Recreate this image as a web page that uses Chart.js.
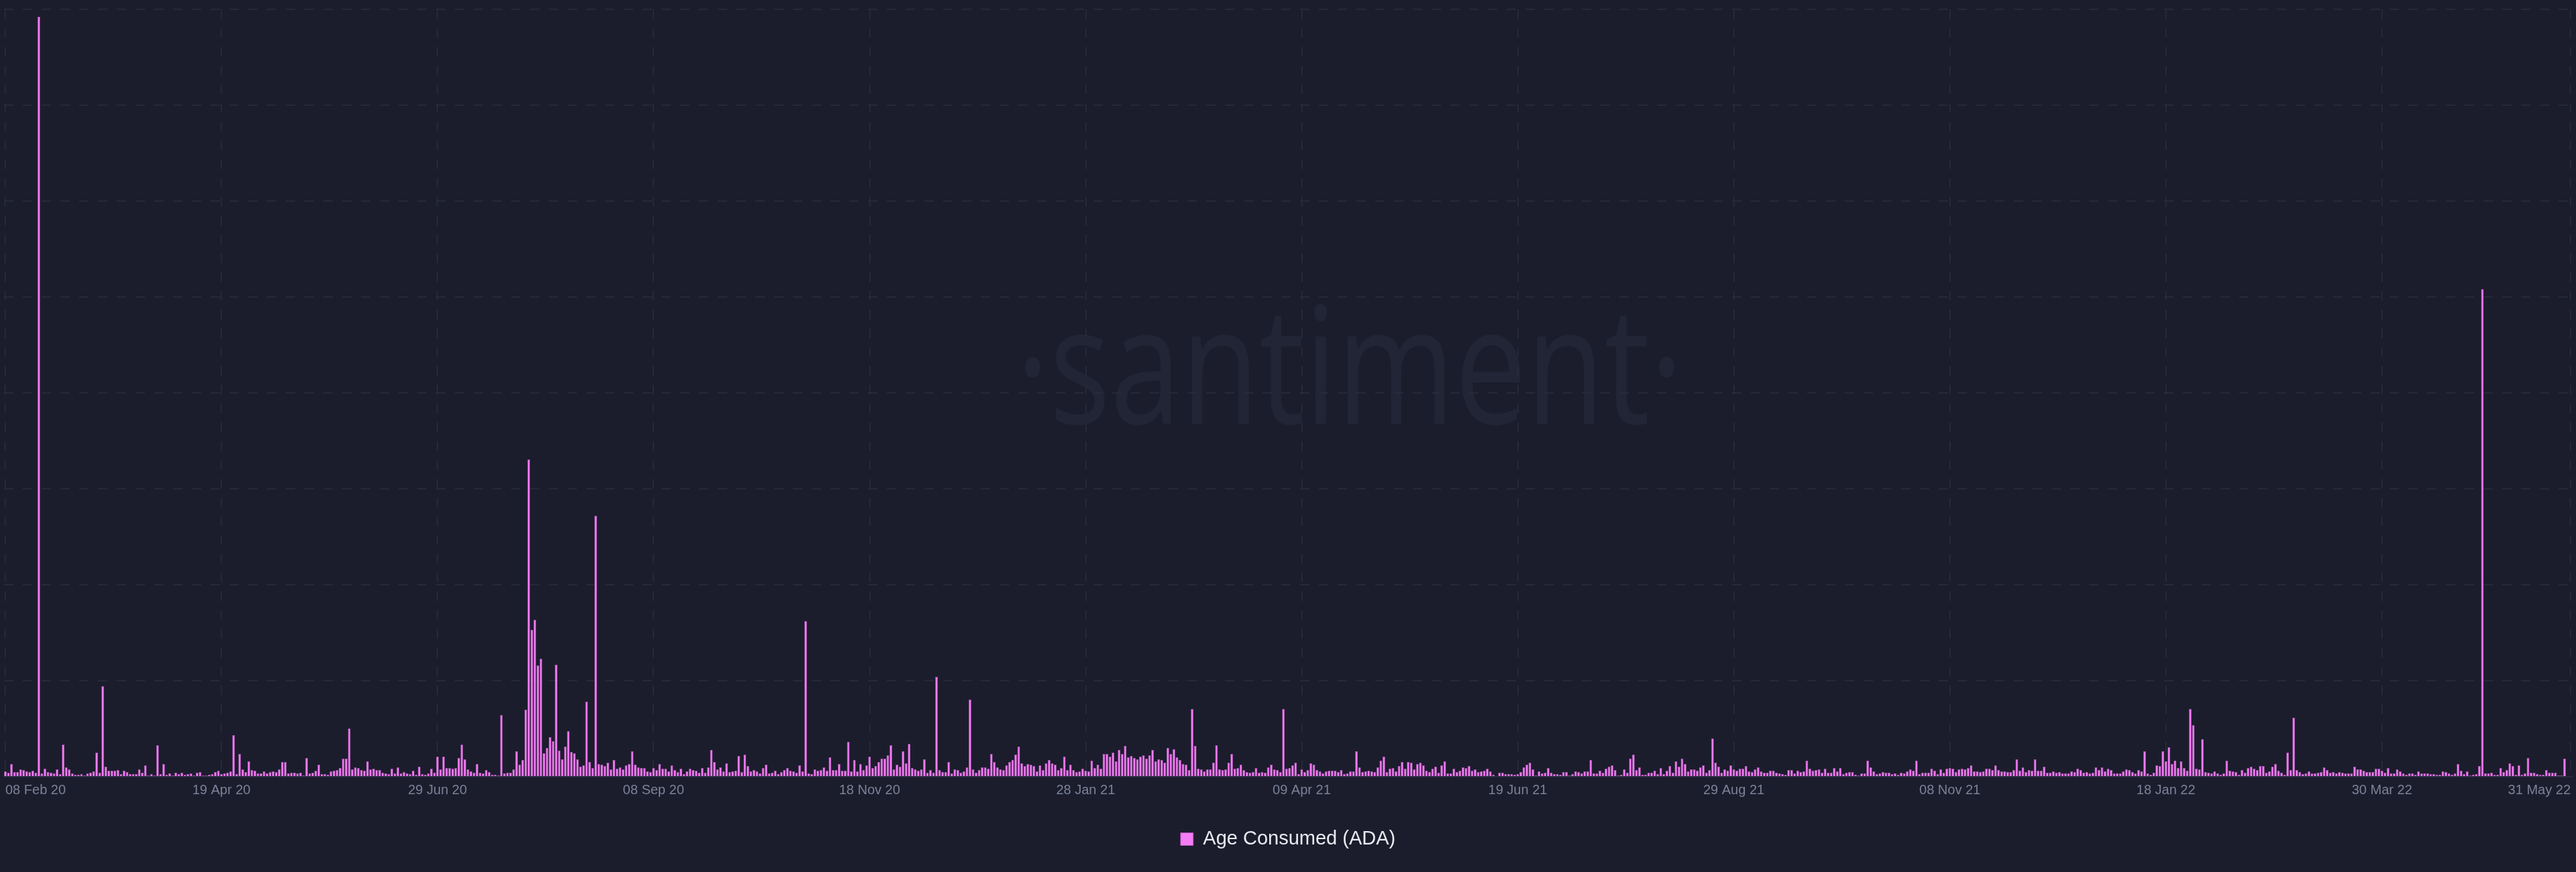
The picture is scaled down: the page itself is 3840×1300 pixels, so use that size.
<!DOCTYPE html>
<html>
<head>
<meta charset="utf-8">
<script src="https://cdn.jsdelivr.net/npm/chart.js@4.4.1/dist/chart.umd.min.js"></script>
<style>
  html, body { margin: 0; padding: 0; background: #1b1d2c; }
  #wrap { position: relative; width: 3840px; height: 1300px; background: #1b1d2c; }
</style>
</head>
<body>
<div id="wrap"><canvas id="c"></canvas></div>
<script>
// ---- data (daily Age Consumed, ADA); units: one gridline = 143 ----
const startDay = '2020-02-08';
const seriesName = 'Age Consumed (ADA)';
const ageConsumed = [
  8,6,19,7,7,11,10,8,7,9,
  6,1133,5,12,7,6,5,11,4,48,
  14,11,5,3,3,4,2,5,6,8,
  36,6,135,15,9,9,9,10,4,9,
  7,4,4,4,11,6,17,2,4,2,
  47,4,19,3,5,2,6,4,6,3,
  4,5,2,6,7,2,2,3,4,7,
  9,4,5,6,8,62,4,34,11,7,
  23,10,9,5,5,8,5,7,8,7,
  11,22,22,5,6,6,5,6,2,28,
  5,6,9,18,4,4,3,8,9,10,
  13,27,27,72,11,14,13,10,9,23,
  11,12,10,10,6,5,4,12,5,14,
  5,7,5,4,9,3,15,4,3,5,
  12,6,30,11,30,13,13,12,13,28,
  48,26,11,8,6,19,6,5,10,7,
  3,3,2,92,5,6,6,11,38,18,
  25,100,473,219,234,166,176,35,43,59,
  53,167,39,26,45,68,37,35,26,15,
  17,112,22,13,389,19,18,16,21,11,
  25,12,14,11,17,19,38,18,14,13,
  13,8,7,13,10,19,12,12,8,17,
  10,7,12,4,8,12,10,9,6,13,
  6,14,40,22,11,14,8,20,7,8,
  9,31,7,33,16,8,10,8,5,13,
  18,5,6,9,4,7,10,13,9,8,
  6,17,8,232,5,4,11,9,10,14,
  9,29,10,10,19,9,9,52,8,25,
  8,19,10,17,30,13,16,22,27,27,
  32,47,11,18,15,38,20,49,13,11,
  9,11,26,6,10,6,149,10,7,7,
  22,5,11,10,6,8,14,115,11,6,
  10,14,14,12,34,22,14,11,10,17,
  22,25,33,45,20,16,19,18,16,8,
  17,10,20,25,20,18,10,13,30,10,
  18,10,7,8,12,9,8,24,13,18,
  12,34,34,30,36,23,40,34,46,29,
  31,28,26,30,32,27,32,40,23,26,
  25,21,43,34,41,29,25,19,18,10,
  101,46,12,11,8,11,11,21,47,11,
  10,11,21,34,12,13,18,10,7,6,
  7,13,6,7,6,14,18,11,10,7,
  101,12,13,17,21,4,11,7,10,20,
  18,10,8,5,8,9,9,9,7,10,
  4,5,8,8,38,14,7,8,9,8,
  7,14,24,30,7,12,13,8,16,22,
  12,22,21,11,19,21,17,9,7,12,
  15,6,17,23,5,5,12,7,9,14,
  13,16,9,11,7,8,9,12,8,3,
  1,6,6,4,4,4,3,4,7,14,
  18,21,11,2,8,5,6,13,6,4,
  4,3,7,7,2,4,8,7,5,8,
  8,25,5,5,9,6,12,15,17,10,
  2,3,11,6,27,33,10,14,3,3,
  6,6,9,4,13,4,9,16,6,23,
  15,27,19,8,11,11,9,14,17,6,
  10,57,21,15,6,11,9,17,11,9,
  12,12,16,8,7,11,14,8,6,6,
  9,9,6,5,4,3,10,10,5,9,
  7,8,24,12,9,10,11,6,12,6,
  6,13,8,13,4,6,7,7,3,2,
  5,5,24,14,8,4,5,7,6,6,
  4,5,3,6,5,8,11,9,24,4,
  6,6,6,12,9,4,11,6,12,13,
  12,7,11,12,11,13,17,8,8,7,
  8,12,12,10,17,10,8,8,7,7,
  10,26,9,14,7,10,9,26,9,9,
  15,6,6,8,6,7,5,5,5,8,
  7,12,10,6,7,5,6,14,10,14,
  8,12,10,5,5,5,8,11,10,7,
  5,10,8,38,5,3,6,17,16,38,
  23,44,19,24,13,23,13,9,101,77,
  12,11,56,7,6,5,8,5,3,5,
  24,9,8,7,3,10,6,13,15,12,
  10,16,16,6,8,15,19,9,6,3,
  36,10,88,10,7,4,5,8,5,5,
  6,7,14,10,6,7,5,7,6,5,
  5,5,15,11,11,9,7,7,7,12,
  12,9,6,13,5,5,11,8,5,3,
  5,5,3,8,5,5,5,4,4,3,
  3,8,7,5,3,5,19,9,4,8,
  2,3,4,16,727,5,5,6,3,3,
  13,7,10,20,16,3,17,3,5,28,
  6,6,4,3,3,10,6,6,6,2,
  2,27,1,0
];
const tickLabels = ['08 Feb 20','19 Apr 20','29 Jun 20','08 Sep 20','18 Nov 20','28 Jan 21',
  '09 Apr 21','19 Jun 21','29 Aug 21','08 Nov 21','18 Jan 22','30 Mar 22','31 May 22'];
const yMax = 1144;          // top gridline
const yStep = 143;          // gridline spacing

// categories: one per day
const MONTHS = ['Jan','Feb','Mar','Apr','May','Jun','Jul','Aug','Sep','Oct','Nov','Dec'];
const categories = [];
{
  const t0 = Date.parse(startDay + 'T00:00:00Z');
  for (let i = 0; i < ageConsumed.length; i++) {
    const d = new Date(t0 + i * 86400000);
    const dd = String(d.getUTCDate()).padStart(2, '0');
    const yy = String(d.getUTCFullYear()).slice(2);
    categories.push(dd + ' ' + MONTHS[d.getUTCMonth()] + ' ' + yy);
  }
}

const BG = '#1b1d2c';
const GRID = '#2a2d3e';
const BAR = '#f47cf5';

const watermark = {
  id: 'watermark',
  beforeDraw(chart) {
    const ctx = chart.ctx;
    ctx.save();
    ctx.fillStyle = BG;
    ctx.fillRect(0, 0, chart.width, chart.height);
    const text = '\u00B7santiment\u00B7';
    ctx.font = '243px "Open Sans"';
    const w = ctx.measureText(text).width;
    ctx.translate(2012, 632);
    ctx.scale(995 / w, 1);
    ctx.textAlign = 'center';
    ctx.textBaseline = 'alphabetic';
    ctx.fillStyle = '#222536';
    ctx.fillText(text, 0, 0);
    ctx.restore();
  }
};

new Chart(document.getElementById('c'), {
  type: 'bar',
  data: {
    labels: categories,
    datasets: [{
      label: seriesName,
      data: ageConsumed,
      backgroundColor: BAR,
      borderColor: '#a850ae',
      borderWidth: 0.7,
      categoryPercentage: 1,
      barPercentage: 0.86
    }]
  },
  options: {
    responsive: true,
    maintainAspectRatio: false,
    animation: false,
    events: [],
    layout: { padding: { top: 14, bottom: 24.5, left: 0, right: 0 } },
    plugins: {
      tooltip: { enabled: false },
      legend: {
        position: 'bottom',
        labels: {
          color: '#e9e9f1',
          font: { family: '"Liberation Sans", Arial, sans-serif', size: 29 },
          boxWidth: 19,
          boxHeight: 19,
          padding: 10
        }
      }
    },
    scales: {
      x: {
        offset: true,
        grid: { color: GRID, lineWidth: 1.5, offset: false, drawTicks: false },
        border: { display: true, color: '#272a3b', width: 2, dash: [14, 14] },
        ticks: {
          autoSkip: false,
          maxRotation: 0,
          minRotation: 0,
          align: 'inner',
          padding: 8,
          color: '#7b8197',
          font: { family: '"Liberation Sans", Arial, sans-serif', size: 20 },
          callback: (value) => categories[value]
        },
        afterBuildTicks: (scale) => {
          scale.ticks = scale.ticks.filter(t => tickLabels.includes(categories[t.value]));
        },
        afterFit: (scale) => { scale.height = 68.5; }
      },
      y: {
        min: 0,
        max: yMax,
        ticks: { display: false, stepSize: yStep },
        grid: { color: GRID, lineWidth: 1.5, drawTicks: false },
        border: { display: false, dash: [14, 14] },
        afterFit: (scale) => { scale.width = 0; }
      }
    }
  },
  plugins: [watermark]
});
</script>
</body>
</html>
